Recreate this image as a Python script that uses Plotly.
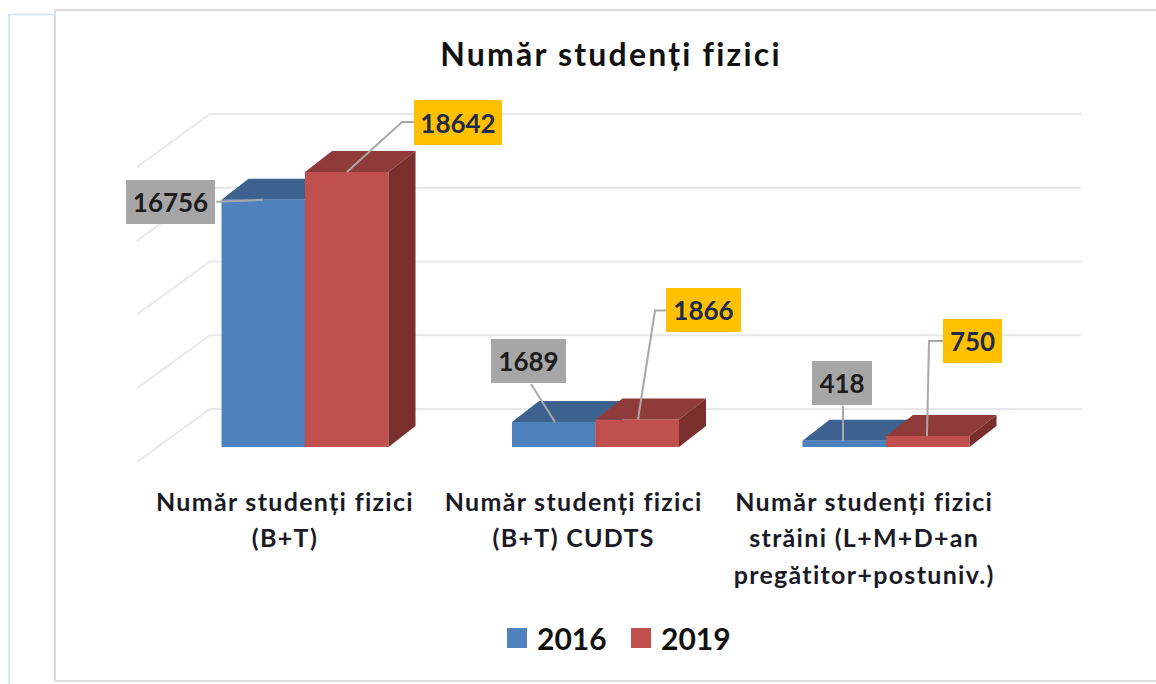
import plotly.graph_objects as go

title = "Număr studenți fizici"
categories = ["Număr studenți fizici<br>(B+T)",
              "Număr studenți fizici<br>(B+T) CUDTS",
              "Număr studenți fizici<br>străini (L+M+D+an<br>pregătitor+postuniv.)"]
years = ["2016", "2019"]
values_2016 = [16756, 1689, 418]
values_2019 = [18642, 1866, 750]
grid_values = [0, 5000, 10000, 15000, 20000]

FONT = "Lato, Carlito, 'Open Sans', sans-serif"
BLUE, BLUE_TOP, BLUE_SIDE = "#4f81bd", "#3d6290", "#335478"
RED, RED_TOP, RED_SIDE = "#c0504d", "#8f3b39", "#7b2f2d"
GRID = "#e8e8e8"
LEAD = "#a9a9a9"

W, H = 1156, 684
L, R, T, B = 58, 1150, 90, 470     # plot area in pixels
X0, XU = 305.0, 290.5              # pixel of group 0 centre, pixels per group
Y0, YU = 447.0, 0.01475            # pixel of value 0, pixels per value unit
BAR_PX = 83.5
DX, DY = 27, 21                    # depth of a bar, pixels

xr = [(L - X0) / XU, (R - X0) / XU]
yr = [(Y0 - B) / YU, (Y0 - T) / YU]
ux = lambda px: px / XU
uy = lambda px: px / YU
bw = ux(BAR_PX)

shapes = []
def poly(points, color, layer):
    path = "M" + " L".join(f"{x},{y}" for x, y in points) + " Z"
    shapes.append(dict(type="path", path=path, xref="x", yref="y", fillcolor=color,
                       line=dict(width=0), layer=layer))

def lead(points):
    path = "M" + " L".join(f"{x},{y}" for x, y in points)
    shapes.append(dict(type="path", path=path, xref="x", yref="y",
                       line=dict(color=LEAD, width=2), layer="above"))

# chart frame
frame = "#dcdcdc"
px_x = lambda p: (p - L) / (R - L)
px_y = lambda p: (B - p) / (B - T)
shapes += [
    dict(type="line", xref="paper", yref="paper", x0=px_x(55), x1=px_x(1156), y0=px_y(10), y1=px_y(10),
         line=dict(color=frame, width=2), layer="below"),
    dict(type="line", xref="paper", yref="paper", x0=px_x(55), x1=px_x(55), y0=px_y(10), y1=px_y(681),
         line=dict(color=frame, width=2), layer="below"),
    dict(type="line", xref="paper", yref="paper", x0=px_x(55), x1=px_x(1156), y0=px_y(681), y1=px_y(681),
         line=dict(color=frame, width=2), layer="below"),
    dict(type="path", xref="paper", yref="paper",
         path=f"M{px_x(55)},{px_y(14.5)} L{px_x(9)},{px_y(14.5)} L{px_x(9)},{px_y(684)}",
         line=dict(color="#cfe0f3", width=1.5), layer="below"),
]

# back wall and floor grid
WALL_LIFT = uy(38)
for g in grid_values:
    y = g + WALL_LIFT
    pts = [(xr[0] + ux(137 - L), y - uy(53)), (xr[0] + ux(210 - L), y), (xr[0] + ux(1081 - L), y)]
    shapes.append(dict(type="path", path="M" + " L".join(f"{a},{b}" for a, b in pts),
                       xref="x", yref="y", line=dict(color=GRID, width=2), layer="below"))

# 3D faces, worked out from the values
def faces(left, v, top, side, layer):
    x0, x1 = left, left + bw
    poly([(x0, v), (x0 + ux(DX), v + uy(DY)), (x1 + ux(DX), v + uy(DY)), (x1, v)], top, layer)
    poly([(x1, 0), (x1 + ux(DX), uy(DY)), (x1 + ux(DX), v + uy(DY)), (x1, v)], side, layer)

for i, v in enumerate(values_2016):
    faces(i - bw, v, BLUE_TOP, BLUE_SIDE, "below")
for i, v in enumerate(values_2019):
    faces(i, v, RED_TOP, RED_SIDE, "above")

# leader lines: pixel offsets from the bar top
lead([(ux(263 - X0), values_2016[0]), (ux(216 - X0), values_2016[0] - uy(2))])
lead([(ux(347 - X0), values_2019[0]), (ux(402 - X0), values_2019[0] + uy(50)), (ux(414 - X0), values_2019[0] + uy(50))])
lead([(1 + ux(555 - X0 - XU), values_2016[1]), (1 + ux(531 - X0 - XU), values_2016[1] + uy(38))])
lead([(1 + ux(638 - X0 - XU), values_2019[1]), (1 + ux(655 - X0 - XU), values_2019[1] + uy(109)), (1 + ux(666 - X0 - XU), values_2019[1] + uy(109))])
lead([(2 + ux(843 - X0 - 2 * XU), values_2016[2]), (2 + ux(843 - X0 - 2 * XU), values_2016[2] + uy(35))])
lead([(2 + ux(927 - X0 - 2 * XU), values_2019[2]), (2 + ux(929 - X0 - 2 * XU), values_2019[2] + uy(95)), (2 + ux(943 - X0 - 2 * XU), values_2019[2] + uy(95))])

fig = go.Figure()
fig.add_trace(go.Bar(x=[0, 1, 2], y=values_2016, name=years[0], marker=dict(color=BLUE, line=dict(width=0)),
                     showlegend=False, hoverinfo="y"))
fig.add_trace(go.Bar(x=[0, 1, 2], y=values_2019, name=years[1], marker=dict(color=RED, line=dict(width=0)),
                     showlegend=False, hoverinfo="y"))
for name, col in zip(years, [BLUE, RED]):
    fig.add_trace(go.Scatter(x=[None], y=[None], mode="markers", name=f"<b>{name}</b>",
                             marker=dict(symbol="square", size=16, color=col, line=dict(color=col, width=4))))

# data labels: (series values, group, box centre in pixels, box size, colours)
labels = [
    (values_2016, 0, 170.5, 202, 91, 46, "#a6a6a6", "#1c1c1c"),
    (values_2019, 0, 458, 122.5, 90, 47, "#ffc000", "#1f2a4d"),
    (values_2016, 1, 528.5, 361, 77, 46, "#a6a6a6", "#1c1c1c"),
    (values_2019, 1, 703.5, 310, 77, 46, "#ffc000", "#1f2a4d"),
    (values_2016, 2, 842, 383, 62, 46, "#a6a6a6", "#1c1c1c"),
    (values_2019, 2, 972.5, 341, 61, 46, "#ffc000", "#1f2a4d"),
]
annotations = []
for vals, g, cx, cy, w, h, bg, fg in labels:
    v = vals[g]
    annotations.append(dict(x=g, y=v, xref="x", yref="y", text=f"<b>{v}</b>", showarrow=False,
                            xanchor="center", yanchor="middle",
                            xshift=cx - (X0 + g * XU), yshift=(Y0 - v * YU) - cy,
                            width=w - 2, height=h - 2, borderpad=0, borderwidth=0,
                            align="center", valign="middle", bgcolor=bg,
                            font=dict(family=FONT, size=26, color=fg)))

tick_positions = [-0.069, 0.925, 1.925]
TICK_STYLE = "font-size:25px;letter-spacing:1.3px"
tick_text = ["<br>".join(f'<span style="{TICK_STYLE}"><b>{line}</b></span>' for line in c.split("<br>"))
             for c in categories]

fig.update_layout(
    width=W, height=H, autosize=False,
    paper_bgcolor="white", plot_bgcolor="rgba(0,0,0,0)",
    margin=dict(l=L, r=W - R, t=T, b=H - B, autoexpand=False),
    barmode="group", bargap=1 - 2 * bw, bargroupgap=0,
    title=dict(text=f'<span style="letter-spacing:2.2px"><b>{title}</b></span>', x=611 / W, xanchor="center",
               y=1 - 55 / H, yanchor="middle",
               font=dict(family=FONT, size=32, color="#111111")),
    xaxis=dict(range=xr, tickmode="array", tickvals=tick_positions, ticktext=tick_text,
               showgrid=False, zeroline=False, showline=False, ticks="", ticklabelstandoff=12,
               tickangle=0, tickfont=dict(family=FONT, size=28, color="#1a1a26"), automargin=False),
    yaxis=dict(range=yr, showgrid=False, zeroline=False, showline=False, showticklabels=False,
               ticks="", automargin=False),
    legend=dict(orientation="h", x=px_x(497), y=px_y(638), xanchor="left", yanchor="middle",
                font=dict(family=FONT, size=30, color="#111111"), bgcolor="rgba(0,0,0,0)",
                itemclick=False, itemdoubleclick=False, entrywidth=79, entrywidthmode="pixels"),
    shapes=shapes, annotations=annotations, showlegend=True,
)
fig.write_html("out.html", config=dict(displayModeBar=False),
               post_script="document.body.style.margin='0';")
